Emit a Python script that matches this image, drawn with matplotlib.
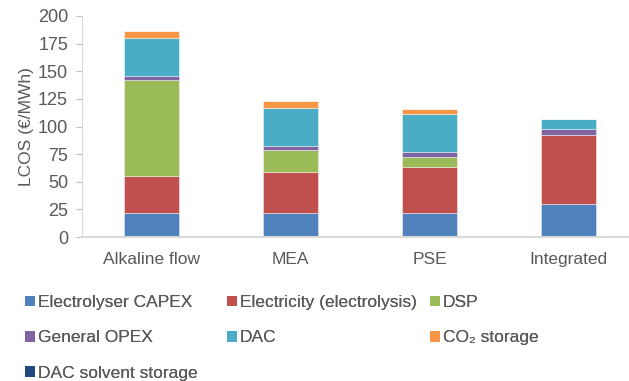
import matplotlib
matplotlib.use("Agg")
import matplotlib.pyplot as plt
from matplotlib.patches import Patch
import numpy as np

plt.rcParams['font.family'] = ['Liberation Sans', 'DejaVu Sans']

categories = ["Alkaline flow", "MEA", "PSE", "Integrated"]
electrolyser_capex = [22, 21.5, 22, 30]
electricity = [33, 37, 41.5, 62.3]
dsp = [87, 20.3, 9, 0]
general_opex = [4, 4, 4, 5.2]
dac = [34.5, 34, 34.5, 9]
co2_storage = [5.5, 6, 5, 0]
dac_solvent_storage = [0, 0, 0, 0]

series = [
    ("Electrolyser CAPEX", electrolyser_capex, "#4F81BD"),
    ("Electricity (electrolysis)", electricity, "#C0504D"),
    ("DSP", dsp, "#9BBB59"),
    ("General OPEX", general_opex, "#8064A2"),
    ("DAC", dac, "#4BACC6"),
    ("CO\u2082 storage", co2_storage, "#F79646"),
    ("DAC solvent storage", dac_solvent_storage, "#1F497D"),
]

W, H = 629, 381
fig = plt.figure(figsize=(W / 100, H / 100), dpi=100)
ax = fig.add_axes([82 / W, 1 - 237 / H, (629 - 82) / W, (237 - 16) / H])

x = np.arange(len(categories))
bottom = np.zeros(len(categories))
handles = []
for name, vals, col in series:
    vals = np.array(vals, dtype=float)
    ax.bar(x, vals, 0.4, bottom=bottom, color=col,
           edgecolor=(1, 1, 1, 0.5), linewidth=0.6, label=name)
    handles.append(Patch(facecolor=col, label=name))
    bottom += vals

ax.set_xlim(-0.5, 3.435)
ax.set_ylim(0, 200)
ax.set_yticks(np.arange(0, 201, 25))
ax.set_xticks(x)
ax.set_xticklabels(categories)
ax.tick_params(axis='x', length=0, pad=11, labelsize=12.5, labelcolor='#595959')
ax.tick_params(axis='y', length=4, width=0.8, color='#BFBFBF', pad=6,
               labelsize=13, labelcolor='#595959')
for s in ['top', 'right']:
    ax.spines[s].set_visible(False)
ax.spines['left'].set_color('#D9D9D9')
ax.spines['left'].set_linewidth(0.8)
ax.spines['bottom'].set_color('#D9D9D9')
ax.spines['bottom'].set_linewidth(1.5)
ax.set_ylabel("LCOS (€/MWh)", fontsize=12.5, color='#595959', labelpad=3)

# legend: three columns placed like the reference
columns = [[0, 3, 6], [1, 4], [2, 5]]
col_x = [25, 227, 430]
for cx, idxs in zip(col_x, columns):
    lg = fig.legend([handles[i] for i in idxs], [handles[i].get_label() for i in idxs],
                    loc='upper left', bbox_to_anchor=(cx / W, 1 - 295 / H),
                    frameon=False, fontsize=12.5, handlelength=0.57, handleheight=0.57,
                    handletextpad=0.17, labelspacing=1.17, borderpad=0, borderaxespad=0,
                    labelcolor='#595959')
    fig.add_artist(lg)

fig.savefig("out.png", dpi=100)
